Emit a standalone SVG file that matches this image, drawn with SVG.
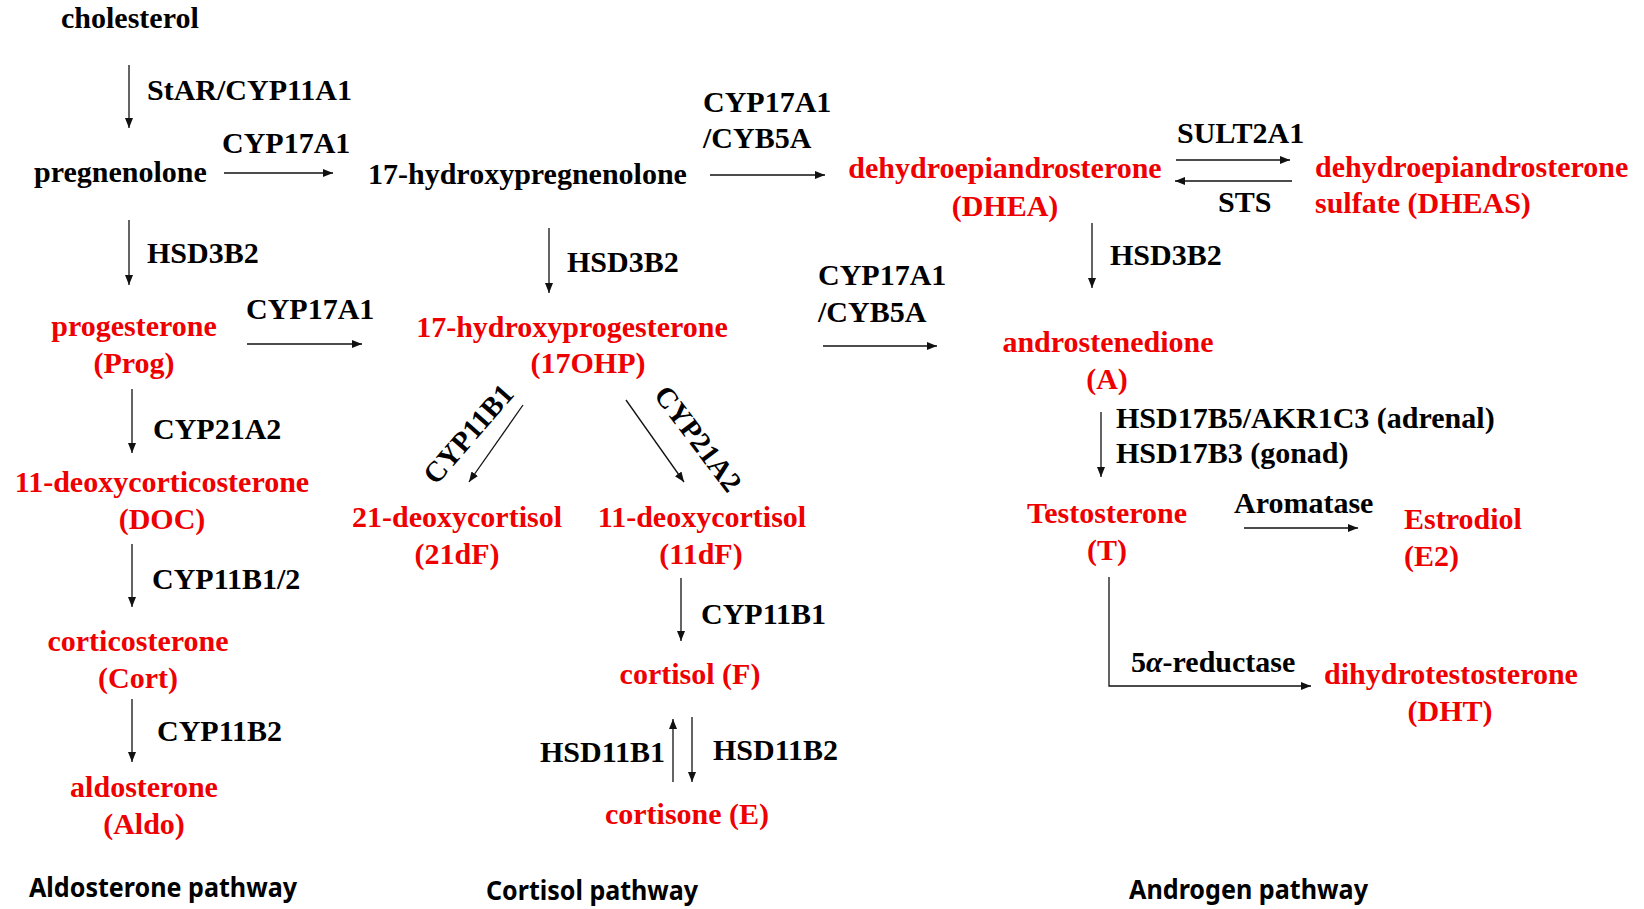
<svg xmlns="http://www.w3.org/2000/svg" width="1644" height="909" viewBox="0 0 1644 909">
<style>
text{font-family:"Liberation Serif","Times New Roman",serif;font-weight:bold;font-size:30px;fill:#000}
.r{fill:#ee0000}
.m{text-anchor:middle}
.e{text-anchor:end}
.d{font-size:29px}
.t{font-family:"Noto Sans","Open Sans","Liberation Sans",sans-serif;font-size:27px}
.c line,.c polyline{stroke:#111;stroke-width:1.3;fill:none;marker-end:url(#ah)}
</style>
<defs>
<marker id="ah" markerUnits="userSpaceOnUse" markerWidth="11" markerHeight="9" refX="10" refY="4" orient="auto">
<path d="M0,0 L10,4 L0,8 z" fill="#111"/>
</marker>
</defs>
<rect width="1644" height="909" fill="#fff"/>
<g id="connectors" class="c">
<line x1="129" y1="65" x2="129" y2="128"/>
<line x1="224" y1="173" x2="333" y2="173"/>
<line x1="129" y1="220" x2="129" y2="285"/>
<line x1="710" y1="175" x2="825" y2="175"/>
<line x1="549" y1="228" x2="549" y2="293"/>
<line x1="247" y1="344" x2="362" y2="344"/>
<line x1="823" y1="346" x2="937" y2="346"/>
<line x1="1176" y1="160" x2="1290" y2="160"/>
<line x1="1292" y1="181" x2="1175" y2="181"/>
<line x1="1092" y1="223" x2="1092" y2="288"/>
<line x1="132" y1="389" x2="132" y2="453"/>
<line x1="132" y1="544" x2="132" y2="607"/>
<line x1="132" y1="699" x2="132" y2="762"/>
<line x1="523" y1="405" x2="469" y2="482"/>
<line x1="626" y1="400" x2="684" y2="482"/>
<line x1="681" y1="578" x2="681" y2="641"/>
<line x1="673" y1="782" x2="673" y2="719"/>
<line x1="692" y1="717" x2="692" y2="782"/>
<line x1="1101" y1="412" x2="1101" y2="477"/>
<line x1="1244" y1="528" x2="1358" y2="528"/>
<polyline points="1109,577 1109,686 1311,686"/>
<g id="edge-labels">
<text x="147" y="100">StAR/CYP11A1</text>
<text x="222" y="153">CYP17A1</text>
<text x="147" y="263">HSD3B2</text>
<text x="703" y="112">CYP17A1</text>
<text x="703" y="148">/CYB5A</text>
<text x="567" y="272">HSD3B2</text>
<text x="246" y="319">CYP17A1</text>
<text x="818" y="285">CYP17A1</text>
<text x="818" y="322">/CYB5A</text>
<text x="1177" y="143">SULT2A1</text>
<text x="1218" y="212">STS</text>
<text x="1110" y="265">HSD3B2</text>
<text x="153" y="439">CYP21A2</text>
<text x="152" y="589">CYP11B1/2</text>
<text x="157" y="741">CYP11B2</text>
<text class="d" transform="translate(436,486) rotate(-49)">CYP11B1</text>
<text class="d" transform="translate(653,395) rotate(53)">CYP21A2</text>
<text x="701" y="624">CYP11B1</text>
<text class="e" x="665" y="762">HSD11B1</text>
<text x="713" y="760">HSD11B2</text>
<text x="1116" y="428">HSD17B5/AKR1C3 (adrenal)</text>
<text x="1116" y="463">HSD17B3 (gonad)</text>
<text x="1234" y="513">Aromatase</text>
<text x="1131" y="672">5<tspan font-style="italic">α</tspan>-reductase</text>
</g>
</g>
<g id="cholesterol"><text x="61" y="28">cholesterol</text></g>
<g id="pregnenolone"><text x="34" y="182">pregnenolone</text></g>
<g id="hydroxypregnenolone"><text x="368" y="184">17-hydroxypregnenolone</text></g>
<g id="progesterone"><text class="r m" x="134" y="336">progesterone</text><text class="r m" x="134" y="373">(Prog)</text></g>
<g id="doc"><text class="r m" x="162" y="492">11-deoxycorticosterone</text><text class="r m" x="162" y="529">(DOC)</text></g>
<g id="corticosterone"><text class="r m" x="138" y="651">corticosterone</text><text class="r m" x="138" y="688">(Cort)</text></g>
<g id="aldosterone"><text class="r m" x="144" y="797">aldosterone</text><text class="r m" x="144" y="834">(Aldo)</text></g>
<g id="ohp"><text class="r m" x="572" y="337">17-hydroxyprogesterone</text><text class="r m" x="588" y="373">(17OHP)</text></g>
<g id="dF21"><text class="r m" x="457" y="527">21-deoxycortisol</text><text class="r m" x="457" y="564">(21dF)</text></g>
<g id="dF11"><text class="r m" x="702" y="527">11-deoxycortisol</text><text class="r m" x="701" y="564">(11dF)</text></g>
<g id="cortisol"><text class="r m" x="690" y="684">cortisol (F)</text></g>
<g id="cortisone"><text class="r m" x="687" y="824">cortisone (E)</text></g>
<g id="dhea"><text class="r m" x="1005" y="178">dehydroepiandrosterone</text><text class="r m" x="1005" y="216">(DHEA)</text></g>
<g id="dheas"><text class="r" x="1315" y="177">dehydroepiandrosterone</text><text class="r" x="1315" y="213">sulfate (DHEAS)</text></g>
<g id="androstenedione"><text class="r m" x="1108" y="352">androstenedione</text><text class="r m" x="1107" y="389">(A)</text></g>
<g id="testosterone"><text class="r m" x="1107" y="523">Testosterone</text><text class="r m" x="1107" y="560">(T)</text></g>
<g id="estradiol"><text class="r" x="1404" y="529">Estrodiol</text><text class="r" x="1404" y="566">(E2)</text></g>
<g id="dht"><text class="r m" x="1451" y="684">dihydrotestosterone</text><text class="r m" x="1450" y="721">(DHT)</text></g>
<g id="titles">
<text class="t" x="29" y="897" textLength="268" lengthAdjust="spacingAndGlyphs">Aldosterone pathway</text>
<text class="t" x="486" y="900" textLength="212" lengthAdjust="spacingAndGlyphs">Cortisol pathway</text>
<text class="t" x="1129" y="899" textLength="239" lengthAdjust="spacingAndGlyphs">Androgen pathway</text>
</g>
</svg>
